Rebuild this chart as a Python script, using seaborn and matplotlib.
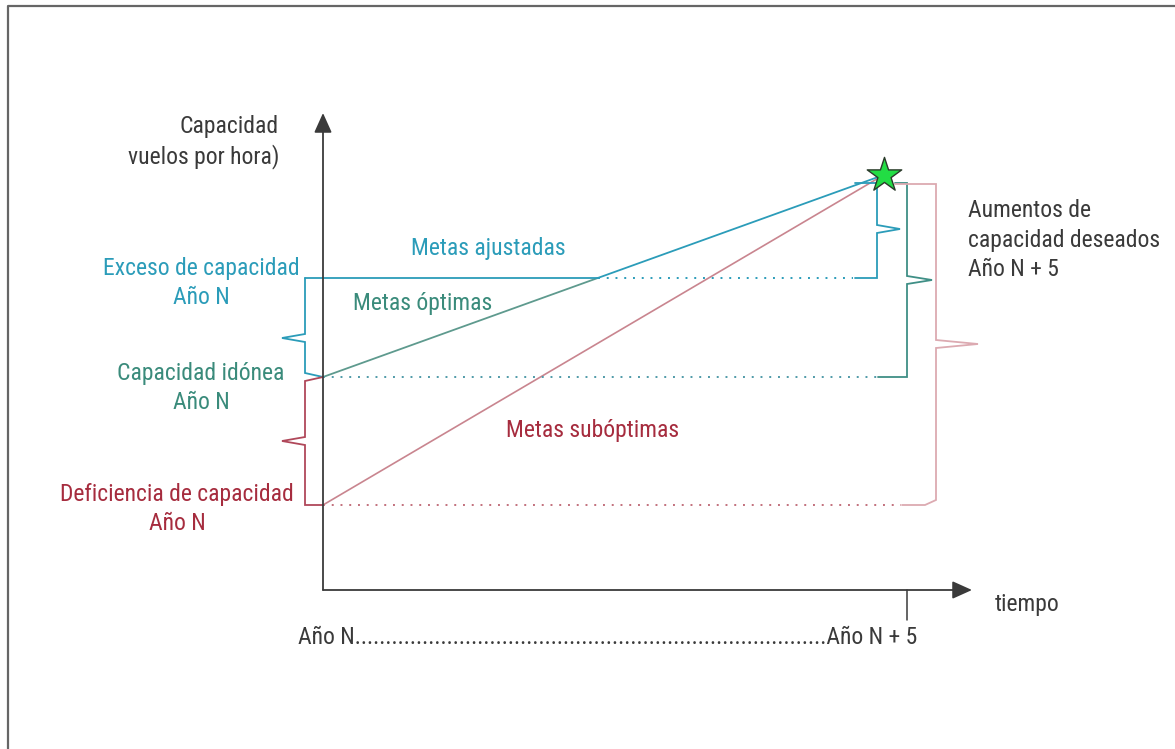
import numpy as np
import seaborn as sns
import matplotlib.pyplot as plt
from matplotlib import font_manager as fm

# eje x: años (Año N = 0, Año N + 5 = 5)
anos = [0, 5]
ano_meta = 4.8

# capacidad (vuelos por hora, escala relativa) en el Año N
niveles = ["Deficiencia de capacidad", "Capacidad idónea", "Exceso de capacidad"]
capacidad_n = [8.5, 21.3, 31.2]
capacidad_meta = 41.5

CIAN = "#2b9cb9"
VERDE = "#3a8b7b"
ROJO = "#a62c3e"
ROSA = "#c9858f"
ROSA_CLARO = "#dcaab1"
GRIS = "#3a3a3a"

sns.set_theme(style="white")
nombres = {f.name for f in fm.fontManager.ttflist}
candidatas = ["Liberation Sans Narrow", "Arial Narrow", "Roboto Condensed",
              "Archivo Narrow", "PT Sans Narrow", "Asap Condensed"]
fuente = next((c for c in candidatas if c in nombres), "DejaVu Sans")
plt.rcParams["font.family"] = [fuente, "DejaVu Sans"]

fig = plt.figure(figsize=(11.75, 7.49), dpi=100)
ax = fig.add_axes([0, 0, 1, 1])
# escala: 116.8 px por año, 10 px por unidad de capacidad
PX, PY = 116.8, 10.0
ax.set_xlim(-323 / PX, (1175 - 323) / PX)
ax.set_ylim((590 - 749) / PY, 590 / PY)
ax.axis("off")

def dx(p):
    return p / PX

def dy(p):
    return p / PY

deficit, idonea, exceso = capacidad_n

# marco
ax.plot([dx(-315), dx(-315), dx(852)], [dy(-159), dy(584), dy(584)],
        color="#666666", lw=1.6, clip_on=False)

# ejes con flechas
ax.annotate("", xy=(0, dy(477)), xytext=(0, 0),
            arrowprops=dict(arrowstyle="-|>,head_length=1.0,head_width=0.45",
                            color=GRIS, lw=1.3, shrinkA=0, shrinkB=0))
ax.annotate("", xy=(dx(649), 0), xytext=(0, 0),
            arrowprops=dict(arrowstyle="-|>,head_length=1.0,head_width=0.45",
                            color=GRIS, lw=1.3, shrinkA=0, shrinkB=0))
ax.plot([anos[1], anos[1]], [0, dy(-30)], color=GRIS, lw=1.1)

# líneas de metas
sns.lineplot(x=[0, ano_meta], y=[deficit, capacidad_meta], ax=ax,
             color=ROSA, lw=1.2)
cruce = (exceso - idonea) / (capacidad_meta - idonea) * ano_meta
sns.lineplot(x=[0, cruce], y=[idonea, exceso], ax=ax, color="#5e9a8e", lw=1.3)
sns.lineplot(x=[cruce, ano_meta], y=[exceso, capacidad_meta], ax=ax,
             color=CIAN, lw=1.3)
# meta ajustada: línea horizontal al nivel de exceso
ax.plot([dx(-18), cruce], [exceso, exceso], color=CIAN, lw=1.3)

# líneas punteadas de nivel
ax.plot([cruce, dx(530)], [exceso, exceso], color=CIAN, lw=1.4,
        ls=(0, (1, 3.5)))
ax.plot([0, dx(554)], [idonea, idonea], color="#4f9aa8", lw=1.4,
        ls=(0, (1, 3.5)))
ax.plot([0, dx(578)], [deficit, deficit], color="#c2707c", lw=1.4,
        ls=(0, (1, 3.5)))

sns.scatterplot(x=[ano_meta], y=[capacidad_meta], ax=ax, marker="*", s=680,
                color="#22dd44", edgecolor="#2a3a2a", linewidth=1.0, zorder=5)

def llave(ax, x0, x_tip, y_top, y_bot, y_mid, color, top=None, bot=None):
    h = dy(4)
    xs = [x0, x0, x_tip, x0, x0]
    ys = [y_top, y_mid + h, y_mid, y_mid - h, y_bot]
    if top is not None:
        xs = top[0] + xs
        ys = top[1] + ys
    if bot is not None:
        xs = xs + bot[0]
        ys = ys + bot[1]
    ax.plot(xs, ys, color=color, lw=1.3, solid_joinstyle="miter")

# llaves izquierdas
llave(ax, dx(-18), dx(-41), exceso, idonea + dy(4), exceso - dy(60), CIAN,
      bot=([0], [idonea]))
llave(ax, dx(-18), dx(-41), idonea - dy(4), deficit, (idonea + deficit) / 2,
      "#b0485a", top=([0], [idonea]), bot=([0], [deficit]))

# llaves derechas
cima = capacidad_meta - dy(8)
llave(ax, dx(554), dx(577), cima, exceso, exceso + dy(49), CIAN,
      top=([dx(532)], [cima]), bot=([dx(532)], [exceso]))
llave(ax, dx(584), dx(609), cima, idonea, idonea + dy(97), "#3f8f86",
      top=([dx(572)], [cima]), bot=([dx(555)], [idonea]))
llave(ax, dx(613), dx(655), cima - dy(1), deficit + dy(5),
      (cima + deficit) / 2, ROSA_CLARO,
      top=([dx(572)], [cima - dy(1)]), bot=([dx(602), dx(579)], [deficit, deficit]))

# textos
fs = 17
ls = 1.35
ax.text(dx(-44), dy(448), "Capacidad\nvuelos por hora)", ha="right",
        va="center", fontsize=fs, color=GRIS, linespacing=ls)
ax.text(dx(-122), exceso - dy(5), "Exceso de capacidad\nAño N", ha="center",
        va="center", fontsize=fs, color=CIAN, linespacing=ls)
ax.text(dx(-122), idonea - dy(11), "Capacidad idónea\nAño N", ha="center",
        va="center", fontsize=fs, color=VERDE, linespacing=ls)
ax.text(dx(-146), deficit - dy(4), "Deficiencia de capacidad\nAño N",
        ha="center", va="center", fontsize=fs, color=ROJO, linespacing=ls)
ax.text(dx(165), dy(342), "Metas ajustadas", ha="center", va="center",
        fontsize=fs, color=CIAN)
ax.text(dx(100), dy(287), "Metas óptimas", ha="center", va="center",
        fontsize=fs, color=VERDE)
ax.text(dx(270), dy(160), "Metas subóptimas", ha="center", va="center",
        fontsize=fs, color=ROJO)
ax.text(dx(645), dy(350), "Aumentos de\ncapacidad deseados\nAño N + 5",
        ha="left", va="center", fontsize=fs, color=GRIS, linespacing=ls)
ax.text(dx(672), dy(-14), "tiempo", ha="left", va="center", fontsize=fs,
        color=GRIS)
ax.text(dx(-25), dy(-47), "Año N" + "." * 77 + "Año N + 5", ha="left",
        va="center", fontsize=fs, color=GRIS)

fig.savefig("out.png", dpi=100)
